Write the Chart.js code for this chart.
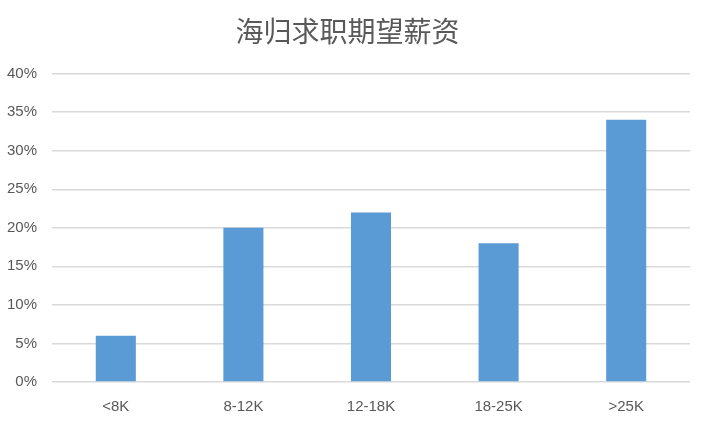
<!DOCTYPE html>
<html>
<head>
<meta charset="utf-8">
<script src="https://cdn.jsdelivr.net/npm/chart.js@4"></script>
<style>
  html, body { margin: 0; padding: 0; background: #fff; }
  #wrap { width: 706px; height: 425px; }
</style>
</head>
<body>
<div id="wrap"><canvas id="salaryBar"></canvas></div>
<script>
// 海归求职期望薪资 - BAR

const salaryLabels = ["<8K", "8-12K", "12-18K", "18-25K", ">25K"];
const salaryValues = [6, 20, 22, 18, 34];
const yTicks = [0, 5, 10, 15, 20, 25, 30, 35, 40];

const textGrey = "#595959";
const titleFont = "'Noto Sans CJK SC', 'Liberation Sans', sans-serif";
const tickFont = "'Liberation Sans', sans-serif";

const salaryDiv = document.getElementById("salaryBar");

const salaryData = {
    labels: salaryLabels,
    datasets: [
        {
            label: "期望薪资",
            data: salaryValues,
            backgroundColor: "#5B9BD5",
            borderWidth: 0,
            barPercentage: 0.314,
            categoryPercentage: 1.0
        }
    ]
};

const salaryChart = new Chart(salaryDiv, {
    type: 'bar',
    data: salaryData,
    options: {
        responsive: true,
        maintainAspectRatio: false,
        animation: false,
        layout: {
            padding: { left: 5, right: 16, top: 0, bottom: -7 }
        },
        plugins: {
            legend: { display: false },
            tooltip: { enabled: false },
            title: {
                display: true,
                text: "海归求职期望薪资",
                color: textGrey,
                font: { family: titleFont, size: 28, weight: 'normal' },
                padding: { top: 15, bottom: 25 }
            }
        },
        scales: {
            x: {
                grid: { display: false, drawTicks: false },
                border: { display: false },
                ticks: {
                    color: textGrey,
                    font: { family: tickFont, size: 15 },
                    padding: 16
                }
            },
            y: {
                min: 0,
                max: 40,
                afterBuildTicks: (axis) => {
                    axis.ticks = yTicks.map(v => ({ value: v }));
                },
                // keep the axis narrow so the plot starts where the original does
                afterFit: (axis) => {
                    axis.width = 47;
                },
                grid: { color: "#d9d9d9", lineWidth: 1.5, drawTicks: false },
                border: { display: false },
                ticks: {
                    color: textGrey,
                    font: { family: tickFont, size: 15 },
                    padding: 15,
                    callback: (v) => v + "%"
                }
            }
        }
    }
});
</script>
</body>
</html>
